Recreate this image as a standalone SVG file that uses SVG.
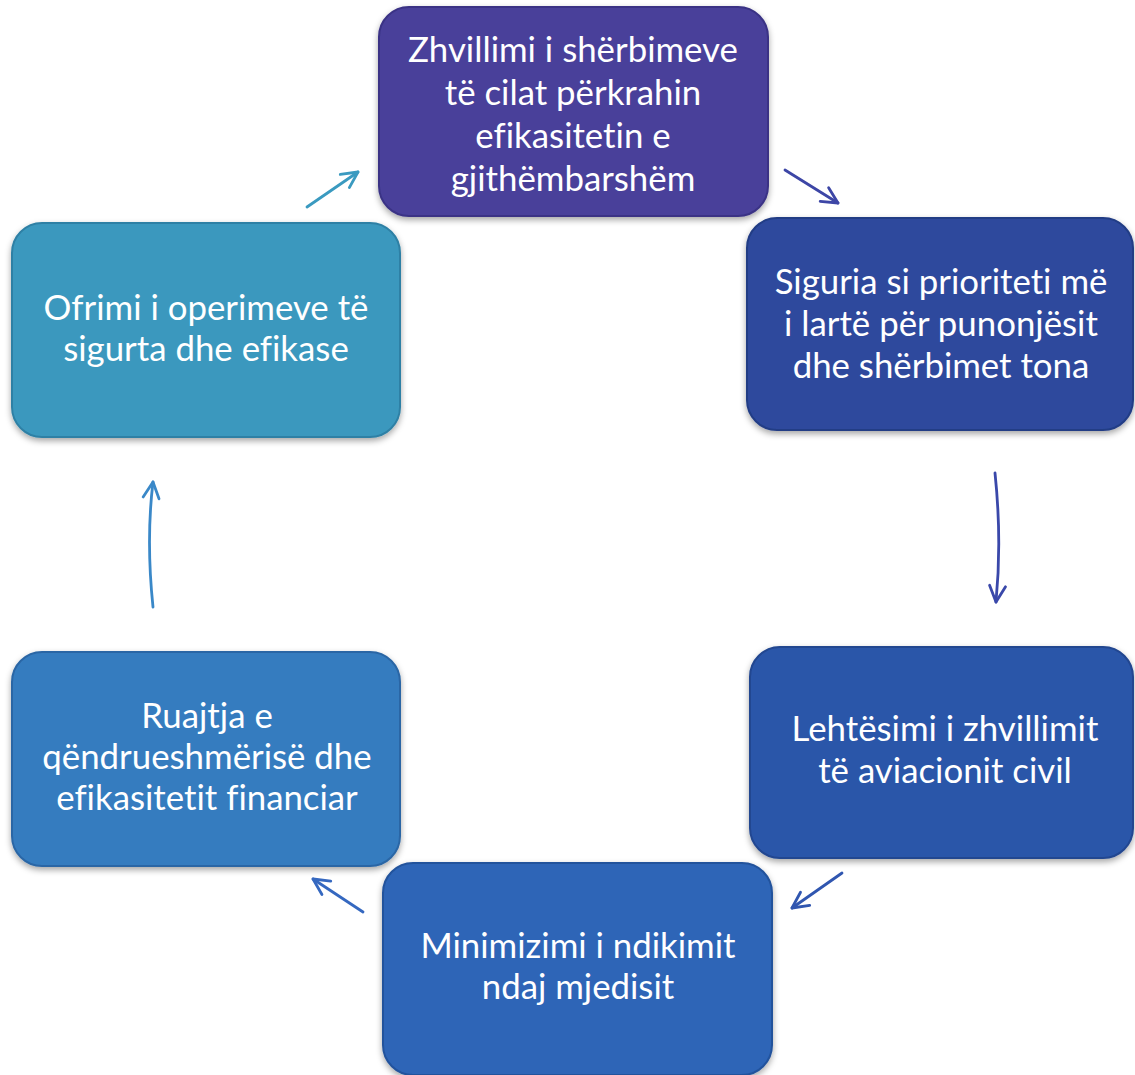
<svg xmlns="http://www.w3.org/2000/svg" width="1135" height="1075" viewBox="0 0 1135 1075">
<style>
.node{stroke-width:2}
.lbl{font-family:Lato,"Open Sans","Liberation Sans",sans-serif;font-size:34.8px;fill:#ffffff;text-anchor:middle;font-variant-ligatures:none;font-feature-settings:"liga" 0,"dlig" 0}
.conn{fill:none;stroke-width:2.8;stroke-linecap:round}
</style>
<defs>
<filter id="sh" x="-10%" y="-10%" width="120%" height="125%">
<feDropShadow dx="0" dy="3" stdDeviation="3" flood-color="#000" flood-opacity="0.35"/>
</filter>
<marker id="ah" viewBox="0 0 20 20" refX="18" refY="10" markerWidth="20" markerHeight="20" markerUnits="userSpaceOnUse" orient="auto">
<path d="M2,2 L18,10 L2,18" fill="none" stroke="context-stroke" stroke-width="2.8" stroke-linecap="round" stroke-linejoin="round"/>
</marker>
</defs>
<rect width="1135" height="1075" fill="#ffffff"/>
<g id="connectors">
<path class="conn" d="M307,207 L358,172" stroke="#3a9ac0" marker-end="url(#ah)"/>
<path class="conn" d="M785,170 L838,203" stroke="#3d46a6" marker-end="url(#ah)"/>
<path class="conn" d="M995,473 Q1002,540 996,602" stroke="#3a48aa" marker-end="url(#ah)"/>
<path class="conn" d="M842,873 L792,908" stroke="#3056b0" marker-end="url(#ah)"/>
<path class="conn" d="M363,912 L313,879" stroke="#3568c0" marker-end="url(#ah)"/>
<path class="conn" d="M153,607 Q146,540 153,482" stroke="#3a88c8" marker-end="url(#ah)"/>
</g>
<g id="node1">
<rect x="379" y="7" width="389" height="209" rx="30" fill="#48409a" stroke="#3a3385" class="node" filter="url(#sh)"/>
<text class="lbl" x="573" y="62">Zhvillimi i shërbimeve</text>
<text class="lbl" x="573" y="105">të cilat përkrahin</text>
<text class="lbl" x="573" y="148">efikasitetin e</text>
<text class="lbl" x="573" y="191">gjithëmbarshëm</text>
</g>
<g id="node2">
<rect x="747" y="218" width="386" height="212" rx="30" fill="#2d4a9d" stroke="#223c85" class="node" filter="url(#sh)"/>
<text class="lbl" x="941" y="294">Siguria si prioriteti më</text>
<text class="lbl" x="941" y="336">i lartë për punonjësit</text>
<text class="lbl" x="941" y="378">dhe shërbimet tona</text>
</g>
<g id="node3">
<rect x="750" y="647" width="383" height="211" rx="30" fill="#2b56a9" stroke="#214690" class="node" filter="url(#sh)"/>
<text class="lbl" x="945" y="741">Lehtësimi i zhvillimit</text>
<text class="lbl" x="945" y="783">të aviacionit civil</text>
</g>
<g id="node4">
<rect x="383" y="863" width="389" height="212" rx="30" fill="#2d65b7" stroke="#23529c" class="node" filter="url(#sh)"/>
<text class="lbl" x="578" y="958">Minimizimi i ndikimit</text>
<text class="lbl" x="578" y="999">ndaj mjedisit</text>
</g>
<g id="node5">
<rect x="12" y="652" width="388" height="214" rx="30" fill="#357bbf" stroke="#2a66a5" class="node" filter="url(#sh)"/>
<text class="lbl" x="207" y="728">Ruajtja e</text>
<text class="lbl" x="207" y="769">qëndrueshmërisë dhe</text>
<text class="lbl" x="207" y="810">efikasitetit financiar</text>
</g>
<g id="node6">
<rect x="12" y="223" width="388" height="214" rx="30" fill="#3b98be" stroke="#2e80a5" class="node" filter="url(#sh)"/>
<text class="lbl" x="206" y="320">Ofrimi i operimeve të</text>
<text class="lbl" x="206" y="361">sigurta dhe efikase</text>
</g>
</svg>
